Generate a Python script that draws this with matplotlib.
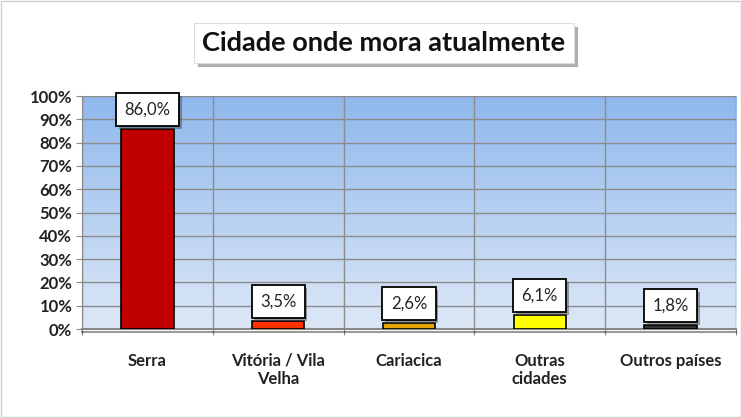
import numpy as np
import matplotlib.pyplot as plt
import matplotlib.patheffects as pe
from matplotlib.patches import Rectangle
from matplotlib.colors import LinearSegmentedColormap

# dados
categorias = ['Serra', 'Vitória / Vila\nVelha', 'Cariacica', 'Outras\ncidades', 'Outros países']
valores = [86.0, 3.5, 2.6, 6.1, 1.8]
cores = ['#C00000', '#FF3300', '#E6A800', '#FFFF00', '#333333']
yticks = [0, 10, 20, 30, 40, 50, 60, 70, 80, 90, 100]

plt.rcParams['font.family'] = ['Lato', 'DejaVu Sans']

fig = plt.figure(figsize=(7.42, 4.18), dpi=100)
ax = fig.add_axes([82 / 742, 1 - 329 / 418, (736 - 82) / 742, (329 - 96) / 418])

# fundo em degradê
grad = np.linspace(0, 1, 256).reshape(-1, 1)
cmap = LinearSegmentedColormap.from_list('fundo', ['#DDE8F7', '#8FB8EC'])
ax.imshow(grad, extent=[-0.5, 4.5, 0, 100], origin='lower', aspect='auto', cmap=cmap, zorder=0)

x = np.arange(len(categorias))
ax.bar(x, valores, width=0.4, color=cores, edgecolor='black', linewidth=1.2, zorder=3)

for xi, v in zip(x, valores):
    t = ax.annotate(f'{v:.1f}%'.replace('.', ','), (xi, v), xytext=(0, 8), textcoords='offset points',
                    ha='center', va='bottom', fontsize=12, zorder=5, color='#222222',
                    bbox=dict(boxstyle='square,pad=0.5', fc='white', ec='black', lw=1.3))
    t.get_bbox_patch().set_path_effects([pe.SimplePatchShadow(offset=(2, -2), alpha=0.5), pe.Normal()])

ax.set_xlim(-0.5, 4.5)
ax.set_ylim(0, 100)
ax.set_yticks(yticks)
ax.set_yticklabels([f'{v}%' for v in yticks], fontsize=12, fontweight='bold', color='#222222')
ax.set_xticks(np.arange(-0.5, 5, 1), minor=False)
ax.set_xticklabels([])
ax.set_xticks(x, minor=True)
ax.set_xticklabels(categorias, minor=True, fontsize=12, fontweight='bold', color='#222222')
ax.tick_params(axis='x', which='minor', length=0, pad=17)
ax.tick_params(axis='x', which='major', length=4, color='#888888')
ax.tick_params(axis='y', length=4, color='#888888', pad=3)
ax.grid(True, which='major', color='#8C8C8C', linewidth=1.0, zorder=1)
ax.set_axisbelow(True)
for s in ['top', 'right']:
    ax.spines[s].set_visible(False)
ax.spines['left'].set_color('#888888')
ax.spines['bottom'].set_color('#888888')
ax.spines['bottom'].set_linewidth(1.5)
ax.spines['bottom'].set_path_effects([pe.SimpleLineShadow(offset=(0, -2), alpha=0.4), pe.Normal()])

# título com caixa e sombra
tt = fig.text(384 / 742, 1 - 43 / 418, 'Cidade onde mora atualmente', ha='center', va='center',
              fontsize=19.5, fontweight='bold', color='#111111',
              bbox=dict(boxstyle='square,pad=0.3', fc='white', ec='#DDDDDD', lw=0.8))
tt.get_bbox_patch().set_path_effects([pe.SimplePatchShadow(offset=(3, -3), alpha=0.45), pe.Normal()])

# borda da figura
fig.patches.append(Rectangle((0.002, 0.002), 0.996, 0.996, transform=fig.transFigure,
                             fill=False, ec='#D0D0D0', lw=1))

fig.savefig('out.png', dpi=100)
